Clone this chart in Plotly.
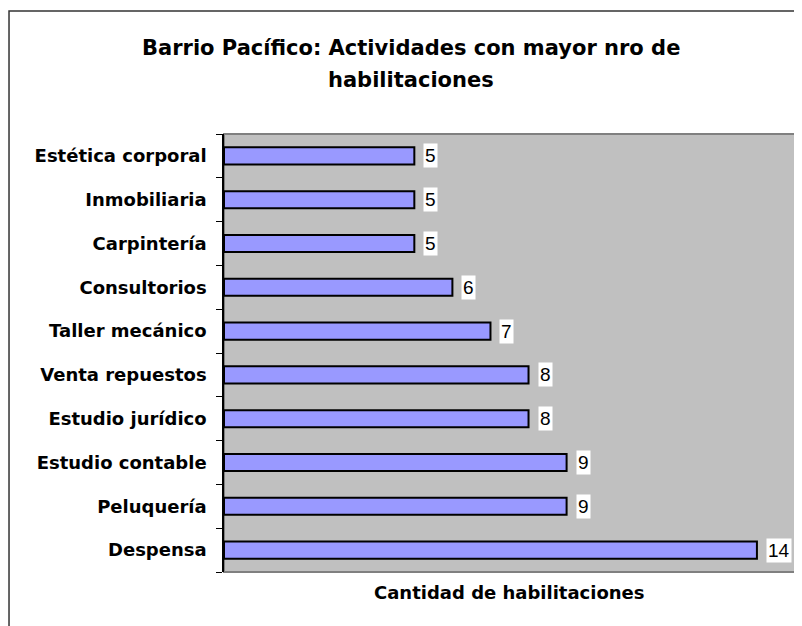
import plotly.graph_objects as go

categories = ["Despensa", "Peluquería", "Estudio contable", "Estudio jurídico",
              "Venta repuestos", "Taller mecánico", "Consultorios", "Carpintería",
              "Inmobiliaria", "Estética corporal"]
values = [14, 9, 9, 8, 8, 7, 6, 5, 5, 5]

title_lines = ["Barrio Pacífico: Actividades con mayor nro de", "habilitaciones"]
x_title = "Cantidad de habilitaciones"

BOLD = "DejaVu Sans, Verdana, sans-serif"
REG = "Liberation Sans, Arial, sans-serif"

fig = go.Figure()
fig.add_trace(go.Bar(
    x=values, y=categories, orientation="h",
    marker=dict(color="#9999FF", line=dict(color="black", width=2)),
    width=0.39, hoverinfo="x+y",
))

annotations = []
for c, v in zip(categories, values):
    annotations.append(dict(
        x=v, y=c, xref="x", yref="y", text=str(v), showarrow=False,
        xanchor="left", yanchor="middle", xshift=9,
        font=dict(family=REG, size=19, color="black"),
        bgcolor="white", borderpad=1,
    ))

title_y = [1.196, 1.123]
for line, ty in zip(title_lines, title_y):
    annotations.append(dict(
        x=0.328, y=ty, xref="paper", yref="paper", text="<b>" + line + "</b>",
        showarrow=False, xanchor="center", yanchor="middle",
        font=dict(family=BOLD, size=21, color="black"),
    ))

annotations.append(dict(
    x=0.5, y=-0.0457, xref="paper", yref="paper", text="<b>" + x_title + "</b>",
    showarrow=False, xanchor="center", yanchor="middle",
    font=dict(family=BOLD, size=18, color="black"),
))

fig.update_layout(
    width=794, height=618,
    margin=dict(l=216, r=7, t=126, b=54),
    paper_bgcolor="white", plot_bgcolor="#C0C0C0",
    showlegend=False,
    annotations=annotations,
    shapes=[
        dict(type="rect", xref="paper", yref="paper", x0=0, x1=1, y0=0, y1=1,
             line=dict(color="#808080", width=2), layer="below"),
        dict(type="rect", xref="paper", yref="paper", x0=-0.3765, x1=1.2, y0=-0.4, y1=1.281,
             line=dict(color="#333333", width=1.5), layer="below"),
    ],
    xaxis=dict(range=[0, 15], showgrid=False, zeroline=False, showticklabels=False,
               ticks="", showline=False),
    yaxis=dict(categoryorder="array", categoryarray=categories, showgrid=False,
               showline=True, linecolor="black", linewidth=1.5,
               ticks="outside", tickson="boundaries", ticklen=6, tickcolor="black",
               tickfont=dict(family=BOLD, size=18, color="black"),
               ticklabelstandoff=12),
)
fig.update_yaxes(tickprefix="<b>", ticksuffix="</b>")

fig.write_html("out.html")
